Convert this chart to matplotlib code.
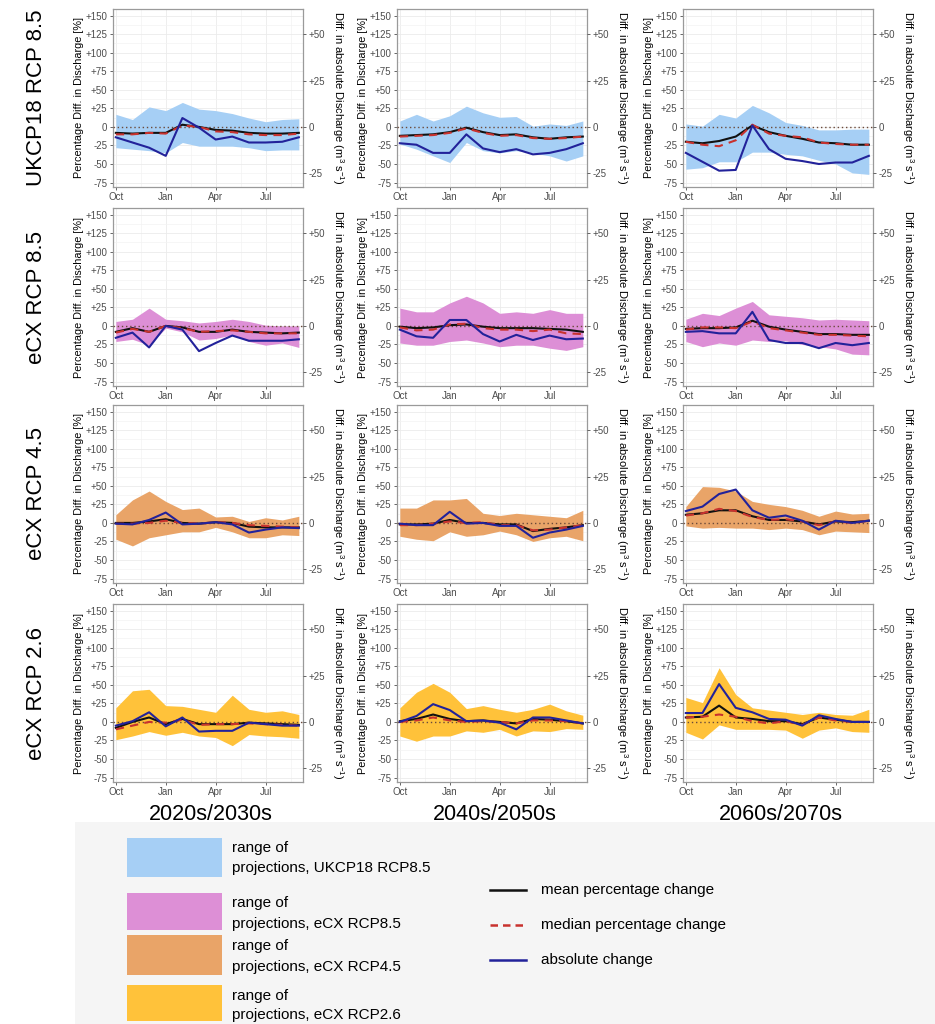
import matplotlib
matplotlib.use("Agg")
import matplotlib.pyplot as plt
from matplotlib.patches import Rectangle
from matplotlib.lines import Line2D
import numpy as np

plt.rcParams['font.family'] = ['Liberation Sans', 'DejaVu Sans']
plt.rcParams['mathtext.fontset'] = 'custom'
plt.rcParams['mathtext.rm'] = 'Liberation Sans'
plt.rcParams['mathtext.it'] = 'Liberation Sans:italic'

# ---------------- data ----------------
months = ["Oct", "Nov", "Dec", "Jan", "Feb", "Mar", "Apr", "May", "Jun", "Jul", "Aug", "Sep"]
month_ticks = ["Oct", "Jan", "Apr", "Jul"]
periods = ["2020s/2030s", "2040s/2050s", "2060s/2070s"]
scenarios = ["UKCP18 RCP 8.5", "eCX RCP 8.5", "eCX RCP 4.5", "eCX RCP 2.6"]
fill_colors = ["#a6cff5", "#dd8fd6", "#e9a468", "#ffc23a"]

# percentage change: upper / lower range, mean, median  (per scenario, per period)
upper = [
    [[17, 10, 27, 22, 33, 24, 22, 18, 12, 7, 10, 11],
     [8, 17, 8, 15, 28, 19, 13, 14, 1, 4, 2, 8],
     [4, 1, 17, 12, 29, 19, 6, 2, -4, -4, -3, -3]],
    [[6, 9, 24, 9, 7, 4, 6, 9, 6, 1, 0, 0],
     [24, 19, 19, 31, 40, 31, 17, 19, 17, 22, 17, 17],
     [9, 17, 14, 24, 33, 15, 13, 11, 8, 9, 8, 7]],
    [[11, 31, 43, 29, 18, 20, 8, 9, 2, 7, 4, 9],
     [20, 20, 31, 31, 33, 13, 10, 13, 11, 9, 7, 17],
     [22, 49, 48, 43, 29, 25, 22, 17, 9, 16, 12, 13]],
    [[19, 42, 44, 22, 21, 17, 13, 36, 17, 13, 15, 10],
     [19, 40, 52, 40, 18, 22, 17, 13, 17, 24, 15, 9],
     [33, 26, 73, 37, 19, 16, 13, 10, 13, 10, 9, 17]],
]
lower = [
    [[-28, -30, -32, -35, -21, -26, -26, -26, -28, -32, -31, -31],
     [-23, -30, -39, -48, -21, -32, -35, -32, -35, -39, -46, -39],
     [-57, -55, -47, -47, -34, -34, -37, -39, -45, -50, -62, -64]],
    [[-21, -18, -26, -3, -8, -19, -17, -12, -21, -26, -23, -29],
     [-23, -26, -26, -21, -19, -23, -28, -26, -26, -30, -33, -28],
     [-21, -28, -23, -26, -19, -21, -20, -25, -28, -31, -38, -39]],
    [[-22, -31, -20, -16, -12, -12, -6, -12, -20, -20, -16, -17],
     [-18, -22, -24, -12, -18, -16, -11, -16, -25, -20, -18, -24],
     [-4, -7, -6, -7, -7, -9, -7, -9, -16, -11, -12, -13]],
    [[-24, -19, -13, -18, -14, -19, -21, -32, -17, -19, -20, -22],
     [-19, -26, -19, -19, -12, -14, -10, -19, -12, -13, -9, -10],
     [-14, -23, -4, -10, -10, -10, -11, -22, -11, -8, -13, -14]],
]
mean_pct = [
    [[-8, -9, -8, -8, 3, 0, -4, -5, -8, -9, -9, -8],
     [-12, -11, -10, -7, -1, -7, -11, -10, -14, -16, -14, -13],
     [-20, -22, -19, -13, 2, -7, -12, -16, -21, -22, -24, -24]],
    [[-8, -3, -8, 0, -2, -8, -8, -5, -8, -9, -10, -9],
     [-1, -3, -2, 1, 2, -1, -3, -3, -3, -4, -5, -8],
     [-4, -3, -3, -2, 7, -1, -5, -8, -11, -11, -12, -12]],
    [[0, 0, 2, 5, 0, -1, 1, 0, -5, -6, -6, -6],
     [-2, -2, -1, 4, 0, 0, -2, -2, -11, -8, -6, -3],
     [11, 13, 17, 17, 9, 4, 4, 2, -2, 2, 1, 3]],
    [[-8, 0, 6, -3, 4, -3, -3, -3, -1, -2, -3, -4],
     [1, 4, 10, 4, 1, 2, 0, -2, 4, 3, 1, -2],
     [6, 7, 22, 6, 4, 1, 1, -3, 6, 3, 0, 0]],
]
median_pct = [
    [[-10, -10, -8, -9, 2, 0, -6, -7, -10, -11, -11, -9],
     [-13, -12, -11, -8, -2, -8, -12, -11, -15, -16, -15, -13],
     [-20, -24, -26, -18, 3, -9, -12, -14, -21, -23, -24, -24]],
    [[-9, -4, -8, 0, -3, -8, -7, -6, -8, -10, -10, -10],
     [-2, -6, -5, 2, 3, -3, -5, -5, -7, -5, -10, -11],
     [-5, -2, -2, -3, 6, -3, -6, -9, -12, -12, -13, -14]],
    [[-1, -1, 0, 3, 0, -1, 1, 0, -3, -4, -5, -6],
     [-3, -3, -1, 2, 0, 1, -3, -3, -10, -9, -6, -3],
     [10, 13, 19, 16, 8, 4, 5, 2, -3, 2, 0, 3]],
    [[-10, -5, 0, -1, 3, -4, -3, -3, -2, -3, -4, -5],
     [0, 2, 6, 2, 0, 1, 0, -2, 2, 2, 1, -2],
     [6, 7, 10, 7, 1, -2, 1, -4, 6, 2, 0, 0]],
]
# absolute change in m3 s-1
abs_change = [
    [[-5.6, -8.4, -11.2, -15.6, 4.8, -0.4, -6.8, -5.2, -8.4, -8.4, -8.0, -5.6],
     [-8.8, -9.6, -14.0, -14.0, -4.0, -11.6, -13.6, -12.0, -14.8, -14.0, -12.0, -8.8],
     [-14.0, -18.8, -23.6, -23.2, 0.8, -12.0, -17.2, -18.4, -20.0, -19.2, -19.2, -15.6]],
    [[-6.4, -3.6, -11.6, 0.0, -2.0, -13.6, -9.2, -5.2, -8.0, -8.0, -8.0, -7.2],
     [-2.0, -5.6, -6.4, 3.2, 3.2, -4.4, -8.4, -4.8, -7.6, -5.2, -7.2, -6.8],
     [-3.2, -2.8, -4.0, -4.0, 7.6, -7.6, -9.2, -9.2, -12.0, -9.2, -10.4, -9.2]],
    [[-0.4, -0.8, 1.6, 5.6, -0.8, -0.4, 0.4, -0.8, -5.2, -3.6, -2.4, -2.8],
     [-0.4, -1.2, -1.2, 6.0, -0.4, 0.0, -1.6, -1.6, -8.0, -5.2, -3.6, -1.6],
     [6.4, 8.8, 15.6, 18.0, 6.8, 2.8, 4.0, 1.2, -3.6, 1.2, 0.0, 1.2]],
    [[-2.0, 0.4, 5.2, -2.4, 2.4, -5.2, -4.8, -4.8, -0.4, -1.2, -2.0, -2.0],
     [0.0, 3.2, 9.6, 6.4, 0.4, 0.8, -0.4, -4.0, 2.4, 2.4, 0.8, -0.8],
     [4.8, 4.8, 20.4, 7.6, 5.2, 1.6, 1.2, -2.0, 3.6, 1.6, 0.0, 0.0]],
]
pct_ticks = [-75, -50, -25, 0, 25, 50, 75, 100, 125, 150]
abs_ticks = [-25, 0, 25, 50]
legend_labels = ["range of\nprojections, UKCP18 RCP8.5", "range of\nprojections, eCX RCP8.5",
                 "range of\nprojections, eCX RCP4.5", "range of\nprojections, eCX RCP2.6"]
line_labels = ["mean percentage change", "median percentage change", "absolute change"]

# ---------------- style ----------------
W, H = 935, 1024
MEAN_C = "#111111"
MED_C = "#c8322e"
ABS_C = "#22229a"
GRID_C = "#ebebeb"
SPINE_C = "#9a9a9a"
TICK_C = "#4d4d4d"
YLIM = (-81, 159)
RATIO = 2.5
XLIM = (-0.17, 11.25)

fig = plt.figure(figsize=(W / 100, H / 100), dpi=100)


def fx(x):
    return x / W


def fy(y):
    return 1 - y / H


# light background of the legend area
fig.add_artist(Rectangle((fx(75), fy(1024)), fx(935) - fx(75), fy(822) - fy(1024),
                         transform=fig.transFigure, facecolor="#f5f5f5", edgecolor="none", zorder=0))

col_left = [113, 397, 683]
col_w = 190
row_top = [9, 208, 405, 604]
row_h = 178

x = np.arange(len(months))
fmt = lambda v: ("+%d" % v) if v > 0 else ("%d" % v)

for r in range(4):
    for c in range(3):
        ax = fig.add_axes([fx(col_left[c]), fy(row_top[r] + row_h), col_w / W, row_h / H])
        ax.set_facecolor("white")
        ax.fill_between(x, lower[r][c], upper[r][c], color=fill_colors[r], lw=0, zorder=2)
        ax.axhline(0, color="#6b4a3a", ls=(0, (1, 2)), lw=1.0, zorder=3)
        ax.plot(x, mean_pct[r][c], color=MEAN_C, lw=1.5, zorder=4)
        ax.plot(x, median_pct[r][c], color=MED_C, lw=1.5, ls=(0, (4, 3)), zorder=5)
        ax.set_xlim(*XLIM)
        ax.set_ylim(*YLIM)
        ax.set_xticks([0, 3, 6, 9])
        ax.set_xticklabels(month_ticks)
        ax.set_xticks([1.5, 4.5, 7.5, 10.5], minor=True)
        ax.set_yticks(pct_ticks)
        ax.set_yticklabels([fmt(v) for v in pct_ticks])
        ax.set_yticks(np.arange(-62.5, 160, 25), minor=True)
        ax.grid(True, which="major", color=GRID_C, lw=0.6, zorder=0)
        ax.grid(True, which="minor", color="#f3f3f3", lw=0.5, zorder=0)
        ax.set_axisbelow(True)
        ax.tick_params(which="major", labelsize=7, colors=TICK_C, length=2.5, width=0.6, pad=1.5)
        ax.tick_params(which="minor", length=0)
        ax.tick_params(axis="x", pad=1)
        for s in ax.spines.values():
            s.set_color(SPINE_C)
            s.set_linewidth(0.9)
        ax.set_ylabel("Percentage Diff. in Discharge [%]", fontsize=7.8, labelpad=1, color="black")

        ax2 = ax.twinx()
        ax2.plot(x, abs_change[r][c], color=ABS_C, lw=1.5, zorder=6)
        ax2.set_ylim(YLIM[0] / RATIO, YLIM[1] / RATIO)
        ax2.set_yticks(abs_ticks)
        ax2.set_yticklabels([fmt(v) for v in abs_ticks])
        ax2.tick_params(labelsize=7, colors=TICK_C, length=2.5, width=0.6, pad=1.5)
        for s in ax2.spines.values():
            s.set_visible(False)
        ax2.set_ylabel(r"Diff. in absolute Discharge ($\mathregular{m^{3}\ s^{-1}}$)",
                       fontsize=8, rotation=-90, labelpad=3.5, color="black")
        ax2.yaxis.label.set_verticalalignment("bottom")

# row labels
for r in range(4):
    fig.text(fx(37), fy(row_top[r] + row_h / 2), scenarios[r], rotation=90, fontsize=16,
             ha="center", va="center")
# column labels
for c in range(3):
    fig.text(fx(col_left[c] + col_w / 2 + 3), fy(814), periods[c], fontsize=15.5,
             ha="center", va="center")

# legend: ranges
patch_y = [(838, 877), (893, 930), (935, 975), (985, 1021)]
text_y = [(848, 868), (903, 924), (946, 967), (996, 1015)]
for i in range(4):
    y0, y1 = patch_y[i]
    fig.add_artist(Rectangle((fx(127), fy(y1)), fx(222) - fx(127), fy(y0) - fy(y1),
                             transform=fig.transFigure, facecolor=fill_colors[i],
                             edgecolor="none", zorder=1))
    l1, l2 = legend_labels[i].split("\n")
    fig.text(fx(232), fy(text_y[i][0]), l1, fontsize=11, va="center", ha="left")
    fig.text(fx(232), fy(text_y[i][1]), l2, fontsize=11, va="center", ha="left")

# legend: lines
line_styles = [dict(color=MEAN_C, ls="-"), dict(color=MED_C, ls=(0, (3, 2))), dict(color=ABS_C, ls="-")]
line_y = [890, 925, 960]
for i in range(3):
    fig.add_artist(Line2D([fx(490), fx(526)], [fy(line_y[i]), fy(line_y[i])],
                          transform=fig.transFigure, lw=1.8, **line_styles[i]))
    fig.text(fx(541), fy(line_y[i]), line_labels[i], fontsize=11, va="center", ha="left")

fig.savefig("out.png", dpi=100)
